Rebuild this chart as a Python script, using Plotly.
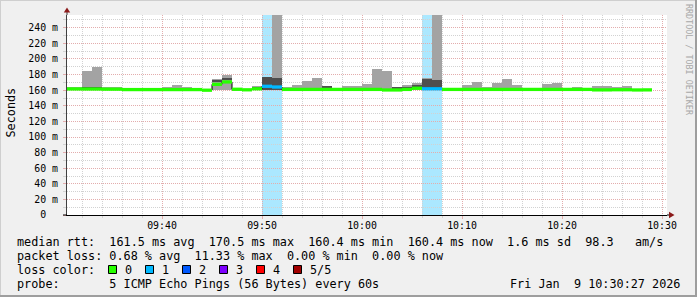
import plotly.graph_objects as go
import pandas as pd

# ---------------- data ----------------
start_time = "2026-01-09 09:30:00"          # first 1-minute step
median_rtt = [161.6, 161.6, 161.5, 161.5, 161.3, 161.3, 160.8, 160.8, 160.8, 160.8,
              160.8, 160.8, 160.8, 160.8, 160.0, 167.5, 170.6, 161.2, 160.5, 161.8,
              165.0, 164.1, 161.0, 161.0, 161.0, 161.0, 161.0, 161.0, 161.0, 161.0,
              161.0, 161.0, 160.3, 160.3, 161.0, 162.5, 161.8, 161.8, 161.0, 161.0,
              161.0, 161.0, 161.0, 161.0, 161.0, 161.0, 161.0, 161.0, 161.0, 161.0,
              161.0, 161.0, 161.0, 160.4, 160.4, 160.6, 160.6, 160.3, 160.4]
smoke_max = [163.7, 163.7, 185.0, 189.7, 163.7, 163.7, 162.0, 162.0, 162.0, 162.0,
             163.7, 166.7, 163.7, 162.0, 161.2, 174.4, 179.5, 162.2, 161.5, 165.4,
             177.0, 330.0, 164.0, 166.7, 171.8, 175.6, 165.0, 162.0, 165.4, 165.4,
             168.4, 187.2, 184.6, 164.0, 166.7, 169.6, 175.8, 330.0, 162.0, 162.0,
             166.7, 170.5, 164.0, 169.2, 174.4, 166.7, 162.0, 162.0, 168.0, 169.2,
             162.0, 164.0, 162.0, 165.4, 165.4, 164.0, 165.4, 161.5, 161.5]
smoke_min = [160.5, 160.5, 160.4, 160.4, 160.3, 160.3, 159.9, 159.9, 159.9, 159.9,
             159.9, 159.9, 159.9, 159.9, 159.2, 159.8, 159.8, 160.2, 159.6, 160.3,
             160.5, 160.5, 160.0, 160.0, 160.0, 160.0, 160.0, 160.0, 160.0, 158.8,
             160.0, 158.9, 158.6, 159.3, 160.0, 160.8, 160.2, 160.2, 160.0, 160.0,
             160.0, 160.0, 160.0, 160.0, 160.0, 160.0, 160.0, 160.0, 160.0, 160.0,
             160.0, 160.0, 160.0, 159.5, 159.5, 159.7, 159.7, 159.4, 159.5]
dark_lo = [161.6, 161.6, 161.5, 161.5, 161.3, 161.3, 160.8, 160.8, 160.8, 160.8,
           160.8, 160.8, 160.8, 160.8, 160.0, 170.8, 173.8, 161.2, 160.5, 161.8,
           160.5, 160.5, 161.0, 161.0, 161.0, 161.0, 161.0, 161.0, 161.0, 161.0,
           161.0, 161.0, 160.3, 160.3, 161.0, 162.5, 160.2, 160.2, 161.0, 161.0,
           161.0, 161.0, 161.0, 161.0, 161.0, 161.0, 161.0, 161.0, 161.0, 161.0,
           161.0, 161.0, 161.0, 160.4, 160.4, 160.6, 160.6, 160.3, 160.4]
dark_hi = [161.6, 161.6, 164.2, 164.2, 161.3, 161.3, 160.8, 160.8, 160.8, 160.8,
           160.8, 160.8, 160.8, 160.8, 160.0, 172.3, 176.0, 161.2, 160.5, 164.0,
           177.0, 175.6, 161.0, 161.0, 161.0, 161.0, 165.0, 161.0, 161.0, 161.0,
           161.0, 161.0, 160.3, 164.0, 164.7, 166.2, 174.8, 172.5, 161.0, 161.0,
           161.0, 161.0, 161.0, 161.0, 161.0, 161.0, 161.0, 161.0, 161.0, 161.0,
           161.0, 161.0, 161.0, 160.4, 160.4, 160.6, 160.6, 160.3, 160.4]
lost_pings = [0] * 20 + [1, 1] + [0] * 14 + [1, 1] + [0] * 21

y_tick_values = [0, 20, 40, 60, 80, 100, 120, 140, 160, 180, 200, 220, 240]
y_tick_labels = ["0\u00a0\u00a0"] + [f"{v} m" for v in y_tick_values[1:]]
y_minor_values = [10, 30, 50, 70, 90, 110, 130, 150, 170, 190, 210, 230, 250]

loss_names = ["0", "1", "2", "3", "4", "5/5"]
loss_colors = ["#26ff00", "#00b8ff", "#0059ff", "#7e00ff", "#ff0000", "#a10000"]
loss_rgb = [(38, 255, 0), (0, 184, 255), (0, 89, 255), (126, 0, 255), (255, 0, 0), (161, 0, 0)]

legend_lines = [
    "median rtt:  161.5 ms avg  170.5 ms max  160.4 ms min  160.4 ms now  1.6 ms sd  98.3   am/s",
    "packet loss: 0.68 % avg  11.33 % max  0.00 % min  0.00 % now",
    "loss color:",
    "probe:       5 ICMP Echo Pings (56 Bytes) every 60s",
]
stamp_text = "Fri Jan  9 10:30:27 2026"
watermark = "RRDTOOL / TOBI OETIKER"

# ---------------- geometry ----------------
W, H = 697, 297
L, R, T, B = 67, 30, 15, 82
PW, PH = W - L - R, H - T - B
Y_TOP = 256.4
X_RANGE = ["2026-01-09 09:30:30", "2026-01-09 10:30:30"]
MONO = "DejaVu Sans Mono"


def px(x):
    return (x - L) / PW


def py(y):
    return (H - B - y) / PH


t0 = pd.Timestamp(start_time)
step = pd.Timedelta(minutes=1)
n = len(median_rtt)
starts = [t0 + i * step for i in range(n)]
centers = [s + step / 2 for s in starts]
STEP_MS = 60000

fig = go.Figure()

# light smoke
fig.add_trace(go.Bar(x=centers, base=smoke_min,
                     y=[a - b for a, b in zip(smoke_max, smoke_min)],
                     width=STEP_MS, marker=dict(color="#a3a3a3", line=dict(width=0)),
                     hoverinfo="skip"))
# dark smoke
fig.add_trace(go.Bar(x=centers, base=dark_lo,
                     y=[a - b for a, b in zip(dark_hi, dark_lo)],
                     width=STEP_MS, marker=dict(color="#4e4e4e", line=dict(width=0)),
                     hoverinfo="skip"))
# thin black median step line
fig.add_trace(go.Scatter(x=starts + [starts[-1] + step], y=median_rtt + [median_rtt[-1]],
                         mode="lines", line=dict(color="#000000", width=1, shape="hv"),
                         hoverinfo="skip"))
# loss-coloured median band, one horizontal segment per step
for k, col in enumerate(loss_colors):
    xs, ys = [], []
    for s, m, lp in zip(starts, median_rtt, lost_pings):
        if lp == k:
            xs += [s, s + step, None]
            ys += [m, m, None]
    if xs:
        fig.add_trace(go.Scatter(x=xs, y=ys, mode="lines",
                                 line=dict(color=col, width=3.3), hoverinfo="skip"))

shapes = []
# loss background bands
for s, k in zip(starts, lost_pings):
    if k > 0:
        r, g, b = loss_rgb[k]
        shapes.append(dict(type="rect", xref="x", yref="paper", x0=s, x1=s + step,
                           y0=0, y1=1, fillcolor=f"rgba({r},{g},{b},0.33)",
                           line=dict(width=0), layer="below"))

# frame
shapes += [
    dict(type="line", xref="paper", yref="paper", x0=px(0), x1=px(W), y0=py(0.5), y1=py(0.5),
         line=dict(color="#cfcfcf", width=1)),
    dict(type="line", xref="paper", yref="paper", x0=px(0.5), x1=px(0.5), y0=py(0), y1=py(H),
         line=dict(color="#cfcfcf", width=1)),
    dict(type="line", xref="paper", yref="paper", x0=px(0), x1=px(W), y0=py(H - 1), y1=py(H - 1),
         line=dict(color="#9e9e9e", width=2)),
    dict(type="line", xref="paper", yref="paper", x0=px(W - 1), x1=px(W - 1), y0=py(0), y1=py(H),
         line=dict(color="#9e9e9e", width=2)),
]
# axis extensions and arrows
shapes += [
    dict(type="line", xref="paper", yref="paper", x0=px(L), x1=px(L), y0=py(T), y1=py(10),
         line=dict(color="#404040", width=1)),
    dict(type="line", xref="paper", yref="paper", x0=px(63), x1=px(L), y0=py(H - B), y1=py(H - B),
         line=dict(color="#000000", width=1)),
    dict(type="line", xref="paper", yref="paper", x0=px(L + PW), x1=px(670), y0=py(H - B), y1=py(H - B),
         line=dict(color="#000000", width=1)),
    dict(type="path", xref="paper", yref="paper",
         path=f"M {px(L)},{py(7.5)} L {px(L - 3.2)},{py(12.5)} L {px(L + 3.2)},{py(12.5)} Z",
         fillcolor="#8b1a1a", line=dict(width=0)),
    dict(type="path", xref="paper", yref="paper",
         path=f"M {px(674.5)},{py(215)} L {px(669)},{py(211.8)} L {px(669)},{py(218.2)} Z",
         fillcolor="#8b1a1a", line=dict(width=0)),
]
# loss colour legend boxes
for i, c in enumerate(loss_colors):
    x0 = 108.5 + 37 * i
    shapes.append(dict(type="rect", xref="paper", yref="paper",
                       x0=px(x0), x1=px(x0 + 8), y0=py(273.5), y1=py(265.5),
                       fillcolor=c, line=dict(color="#000000", width=1)))

annotations = []
line_y = [241.5, 255.5, 269.5, 283.5]
for text, yy in zip(legend_lines, line_y):
    annotations.append(dict(xref="paper", yref="paper", x=px(15), y=py(yy), text=text.replace(" ", "\u00a0"),
                            showarrow=False, xanchor="left", yanchor="middle",
                            font=dict(family=MONO, size=11.8, color="#000000")))
for i, name in enumerate(loss_names):
    annotations.append(dict(xref="paper", yref="paper", x=px(108.5 + 37 * i + 14), y=py(269.5), text=name,
                            showarrow=False, xanchor="left", yanchor="middle",
                            font=dict(family=MONO, size=11.8, color="#000000")))
annotations.append(dict(xref="paper", yref="paper", x=px(682), y=py(283.5),
                        text=stamp_text.replace(" ", "\u00a0"), showarrow=False,
                        xanchor="right", yanchor="middle",
                        font=dict(family=MONO, size=11.8, color="#000000")))
annotations.append(dict(xref="paper", yref="paper", x=px(10.5), y=py(113), text="Seconds",
                        textangle=-90, showarrow=False, xanchor="center", yanchor="middle",
                        font=dict(family=MONO, size=11.8, color="#000000")))
annotations.append(dict(xref="paper", yref="paper", x=px(689), y=py(60), text=watermark,
                        textangle=90, showarrow=False, xanchor="center", yanchor="middle",
                        font=dict(family=MONO, size=8.4, color="#a8a8a8")))

MAJOR = "#e3adad"
MINOR = "#d2d2d2"
DASH = "1px,1px"

fig.update_layout(
    width=W, height=H,
    margin=dict(l=L, r=R, t=T, b=B, pad=0),
    paper_bgcolor="#f0f0f0", plot_bgcolor="#ffffff",
    barmode="overlay", bargap=0, showlegend=False,
    shapes=shapes, annotations=annotations,
    xaxis=dict(type="date", range=X_RANGE, tickformat="%H:%M",
               tick0="2026-01-09 09:40:00", dtick=600000,
               showgrid=True, gridcolor=MAJOR, griddash=DASH, gridwidth=1,
               showline=True, linecolor="#000000", linewidth=1,
               ticks="outside", ticklen=3, tickcolor=MAJOR, ticklabelstandoff=-2,
               zeroline=False, fixedrange=True,
               tickfont=dict(family=MONO, size=9.9, color="#000000"),
               minor=dict(dtick=120000, showgrid=True, gridcolor=MINOR, griddash=DASH,
                          ticks="outside", ticklen=2, tickcolor=MINOR)),
    yaxis=dict(range=[0, Y_TOP], tickmode="array", tickvals=y_tick_values, ticktext=y_tick_labels,
               showgrid=True, gridcolor=MAJOR, griddash=DASH, gridwidth=1,
               showline=True, linecolor="#404040", linewidth=1,
               ticks="outside", ticklen=3, tickcolor=MAJOR, ticklabelstandoff=3,
               zeroline=False, fixedrange=True,
               tickfont=dict(family=MONO, size=9.9, color="#000000"),
               minor=dict(tickmode="array", tickvals=y_minor_values, showgrid=True,
                          gridcolor=MINOR, griddash=DASH, ticks="outside", ticklen=3, tickcolor=MINOR)),
)

fig.write_html("out.html")
